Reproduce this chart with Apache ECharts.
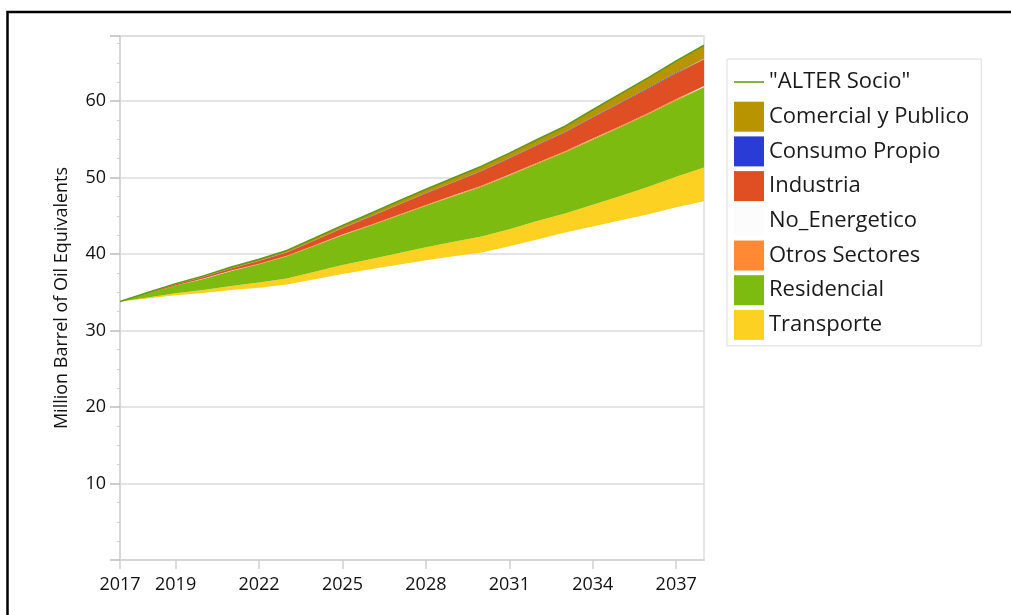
<!DOCTYPE html>
<html>
<head>
<meta charset="utf-8">
<script src="https://cdn.jsdelivr.net/npm/echarts@6/dist/echarts.min.js"></script>
<style>
  html, body { margin: 0; padding: 0; background: #fff; }
  #chart { width: 1011px; height: 615px; }
</style>
</head>
<body>
<div id="chart"></div>
<script>
// years on the x axis and the ones that get a label/tick
var years = ['2017','2018','2019','2020','2021','2022','2023','2024','2025','2026','2027',
             '2028','2029','2030','2031','2032','2033','2034','2035','2036','2037','2038'];
var xTickYears = ['2017','2019','2022','2025','2028','2031','2034','2037'];

// white base under the wedges
var baseLevel = [33.8, 34.2, 34.6, 34.9, 35.3, 35.6, 36.0, 36.7, 37.4, 38.0, 38.6,
                 39.2, 39.7, 40.2, 41.0, 41.9, 42.8, 43.6, 44.4, 45.2, 46.1, 46.9];
var transporte = [0, 0.13, 0.27, 0.4, 0.53, 0.67, 0.8, 0.97, 1.15, 1.3, 1.5,
                  1.7, 1.9, 2.1, 2.25, 2.4, 2.5, 2.85, 3.2, 3.6, 4.0, 4.4];
var residencial = [0, 0.5, 1.0, 1.45, 1.95, 2.4, 2.9, 3.4, 3.9, 4.4, 4.9,
                   5.4, 5.95, 6.5, 7.0, 7.5, 8.0, 8.5, 9.0, 9.5, 10.0, 10.5];
var otrosSectores = [0, 0.01, 0.02, 0.03, 0.04, 0.05, 0.06, 0.07, 0.08, 0.09, 0.1,
                     0.1, 0.11, 0.11, 0.12, 0.12, 0.13, 0.13, 0.14, 0.14, 0.15, 0.15];
var noEnergetico = [0, 0.01, 0.01, 0.01, 0.01, 0.01, 0.01, 0.01, 0.01, 0.01, 0.01,
                    0.01, 0.01, 0.01, 0.01, 0.01, 0.01, 0.01, 0.01, 0.01, 0.01, 0.01];
var industria = [0, 0.07, 0.14, 0.21, 0.28, 0.35, 0.42, 0.62, 0.82, 1.05, 1.3,
                 1.5, 1.7, 1.9, 2.1, 2.28, 2.45, 2.75, 3.0, 3.2, 3.35, 3.5];
var consumoPropio = [0, 0.01, 0.01, 0.02, 0.02, 0.03, 0.03, 0.03, 0.04, 0.04, 0.04,
                     0.05, 0.05, 0.05, 0.06, 0.06, 0.06, 0.07, 0.07, 0.07, 0.08, 0.08];
var comercial = [0, 0.04, 0.08, 0.12, 0.17, 0.21, 0.25, 0.3, 0.35, 0.4, 0.45,
                 0.5, 0.55, 0.6, 0.65, 0.7, 0.75, 0.95, 1.15, 1.35, 1.55, 1.75];
var alterSocio = [33.8, 34.97, 36.13, 37.14, 38.30, 39.32, 40.47, 42.10, 43.75, 45.29, 46.90,
                  48.46, 49.97, 51.47, 53.19, 54.97, 56.70, 58.86, 60.97, 63.07, 65.24, 67.29];

var fontName = '"Open Sans", "Noto Sans", sans-serif';

function areaSeries(name, data, color) {
    return {
        name: name,
        type: 'line',
        stack: 'total',
        data: data,
        symbol: 'none',
        showSymbol: false,
        lineStyle: { width: 0 },
        itemStyle: { color: color },
        areaStyle: { color: color, opacity: 1 },
        emphasis: { disabled: true },
        silent: true
    };
}

var myChart = echarts.init(document.getElementById('chart'));
myChart.setOption({
    animation: false,
    backgroundColor: '#fff',
    graphic: [{
        type: 'polyline',
        shape: { points: [[7.5, 615], [7.5, 12], [1011, 12]] },
        style: { stroke: '#000', lineWidth: 2.5, fill: null }
    }],
    grid: {
        left: 120, right: 307, top: 36, bottom: 55,
        show: true, borderColor: '#dedede', borderWidth: 1.5
    },
    legend: {
        orient: 'vertical',
        left: 727, top: 59,
        padding: [8, 12, 6, 7],
        itemWidth: 30, itemHeight: 30, itemGap: 4.7,
        borderColor: '#dcdcdc', borderWidth: 1,
        selectedMode: false,
        textStyle: { fontSize: 22, color: '#1a1a1a', fontFamily: fontName },
        data: [
            // thin line kept inside a 30x30 box so the row is as tall as the others
            { name: '"ALTER Socio"', icon: 'path://M0,0Z M0,14.25H30V15.75H0Z M30,30Z' },
            { name: 'Comercial y Publico', icon: 'rect' },
            { name: 'Consumo Propio', icon: 'rect' },
            { name: 'Industria', icon: 'rect' },
            { name: 'No_Energetico', icon: 'rect' },
            { name: 'Otros Sectores', icon: 'rect' },
            { name: 'Residencial', icon: 'rect' },
            { name: 'Transporte', icon: 'rect' }
        ]
    },
    xAxis: {
        type: 'category',
        data: years,
        boundaryGap: false,
        axisLine: { lineStyle: { color: '#d6d6d6', width: 2 } },
        axisTick: {
            alignWithLabel: true,
            length: 9,
            lineStyle: { color: '#cfcfcf', width: 1.5 },
            interval: function (i, v) { return xTickYears.indexOf(v) >= 0; }
        },
        axisLabel: {
            margin: 16,
            fontSize: 18,
            color: '#111',
            fontFamily: fontName,
            interval: function (i, v) { return xTickYears.indexOf(v) >= 0; }
        },
        splitLine: { show: false }
    },
    yAxis: {
        type: 'value',
        min: 0, max: 68.5, interval: 10,
        name: 'Million Barrel of Oil Equivalents',
        nameLocation: 'middle',
        nameGap: 49,
        nameTextStyle: { fontSize: 18, color: '#111', fontFamily: fontName },
        axisLine: { show: true, lineStyle: { color: '#d6d6d6', width: 2 } },
        axisTick: { show: true, length: 10, lineStyle: { color: '#bdbdbd', width: 1.5 } },
        minorTick: { show: true, splitNumber: 4, length: 3, lineStyle: { color: '#cfcfcf' } },
        axisLabel: {
            margin: 14,
            fontSize: 18,
            color: '#111',
            fontFamily: fontName,
            showMaxLabel: false,
            formatter: function (v) { return (v === 0 || v % 10 !== 0) ? '' : v; }
        },
        splitLine: { show: true, lineStyle: { color: '#dcdcdc', width: 1.5 } }
    },
    series: [
        {
            name: 'base',
            type: 'line',
            stack: 'total',
            data: baseLevel,
            symbol: 'none',
            lineStyle: { width: 0 },
            areaStyle: { color: 'rgba(255,255,255,0)' },
            silent: true
        },
        areaSeries('Transporte', transporte, '#fcd122'),
        areaSeries('Residencial', residencial, '#7dbb10'),
        areaSeries('Otros Sectores', otrosSectores, '#ff8a33'),
        areaSeries('No_Energetico', noEnergetico, '#fcfcfc'),
        areaSeries('Industria', industria, '#e04f23'),
        areaSeries('Consumo Propio', consumoPropio, '#2b3bd6'),
        areaSeries('Comercial y Publico', comercial, '#b89400'),
        {
            name: '"ALTER Socio"',
            type: 'line',
            data: alterSocio,
            symbol: 'none',
            showSymbol: false,
            z: 5,
            lineStyle: { color: '#5e9a10', width: 1.5 },
            itemStyle: { color: '#5e9a10' },
            emphasis: { disabled: true },
            silent: true
        }
    ]
});
</script>
</body>
</html>
